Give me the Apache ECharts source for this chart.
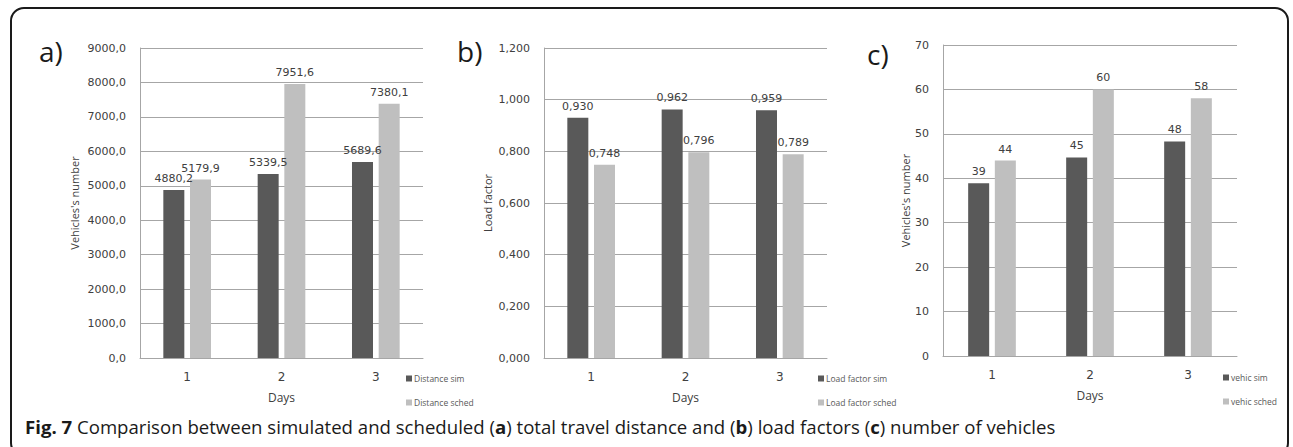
<!DOCTYPE html>
<html>
<head>
<meta charset="utf-8">
<script src="https://cdn.jsdelivr.net/npm/echarts@6/dist/echarts.min.js"></script>
<style>
  html, body { margin: 0; padding: 0; background: #fff; width: 1293px; height: 447px; overflow: hidden; }
  #frame { position: absolute; left: 10px; top: 7px; width: 1279px; height: 450px; border: 2px solid #1a1a1a; border-radius: 14px; box-sizing: border-box; }
  #chart { position: absolute; left: 0; top: 0; width: 1293px; height: 447px; }
  #caption { position: absolute; left: 25px; top: 414px; font-family: "Open Sans", sans-serif; font-size: 18.6px; line-height: 25px; color: #1a1a1a; white-space: nowrap; }
  #caption b { font-weight: 700; }
</style>
</head>
<body>
<div id="frame"></div>
<div id="chart"></div>
<div id="caption"><b>Fig. 7</b> Comparison between simulated and scheduled (<b>a</b>) total travel distance and (<b>b</b>) load factors (<b>c</b>) number of vehicles</div>
<script>
// ---- data ----
const days = ['1', '2', '3'];

const distanceSim = [4880.2, 5339.5, 5689.6];
const distanceSched = [5179.9, 7951.6, 7380.1];

const loadSim = [0.930, 0.962, 0.959];
const loadSched = [0.748, 0.796, 0.789];

const vehicSim = [38.9, 44.7, 48.3];
const vehicSched = [44, 60, 58];

const panelLetters = ['a)', 'b)', 'c)'];
const yNames = ["Vehicles's number", 'Load factor', "Vehicles's number"];
const xName = 'Days';
const legendNames = [
  ['Distance sim', 'Distance sched'],
  ['Load factor sim', 'Load factor sched'],
  ['vehic sim', 'vehic sched']
];

// ---- styles ----
const DARK = '#595959';
const LIGHT = '#bfbfbf';
const GRIDC = '#a6a6a6';
const TXT = '#404040';
const NUMFONT = 'DejaVu Sans';
const NAMEFONT = 'Open Sans';

const fmtA = v => v.toFixed(1).replace('.', ',');
const fmtB = v => v.toFixed(3).replace('.', ',');
const fmtC = v => String(Math.round(v));

const grids = [
  { left: 140, top: 48, width: 283, height: 310 },
  { left: 544, top: 48, width: 283, height: 310 },
  { left: 943, top: 45, width: 294, height: 311 }
];
const yCfg = [
  { min: 0, max: 9000, interval: 1000, fmt: fmtA, nameGap: 60 },
  { min: 0, max: 1.2, interval: 0.2, fmt: fmtB, nameGap: 51 },
  { min: 0, max: 70, interval: 10, fmt: fmtC, nameGap: 31 }
];
const seriesData = [
  [distanceSim, distanceSched],
  [loadSim, loadSched],
  [vehicSim, vehicSched]
];
const legendPos = [
  { left: 401, top: 369 },
  { left: 813, top: 369 },
  { left: 1218, top: 368 }
];
const letterPos = [[39, 37], [457, 37], [867, 40]];

const option = {
  animation: false,
  grid: grids.map(g => Object.assign({ containLabel: false }, g)),
  xAxis: grids.map((g, i) => ({
    type: 'category', gridIndex: i, data: days,
    name: xName, nameLocation: 'middle', nameGap: 33,
    nameTextStyle: { fontFamily: NAMEFONT, fontSize: 12, color: TXT },
    axisLine: { lineStyle: { color: GRIDC, width: 1 } },
    axisTick: { show: false },
    axisLabel: { fontFamily: NUMFONT, fontSize: 12, color: TXT, margin: 13 }
  })),
  yAxis: yCfg.map((c, i) => ({
    type: 'value', gridIndex: i, min: c.min, max: c.max, interval: c.interval,
    name: yNames[i], nameLocation: 'middle', nameGap: c.nameGap,
    nameTextStyle: { fontFamily: NAMEFONT, fontSize: 11, color: TXT },
    axisLine: { show: true, lineStyle: { color: GRIDC, width: 1 } },
    axisTick: { show: false },
    splitLine: { lineStyle: { color: GRIDC, width: 1 } },
    axisLabel: { fontFamily: NUMFONT, fontSize: 11, color: TXT, margin: 14, formatter: c.fmt }
  })),
  legend: legendPos.map((p, i) => ({
    orient: 'vertical', left: p.left, top: p.top,
    itemWidth: 6, itemHeight: 6, itemGap: 15,
    icon: 'rect',
    data: legendNames[i],
    textStyle: { fontFamily: NAMEFONT, fontSize: 8.5, color: '#595959', padding: [0, 0, 0, -3] }
  })),
  series: [],
  graphic: panelLetters.map((t, i) => ({
    type: 'text', left: letterPos[i][0], top: letterPos[i][1],
    style: { text: t, font: '28px "Open Sans"', fill: '#1a1a1a' }
  }))
};

seriesData.forEach((pair, i) => {
  const fmt = yCfg[i].fmt;
  pair.forEach((vals, j) => {
    option.series.push({
      type: 'bar', name: legendNames[i][j],
      xAxisIndex: i, yAxisIndex: i,
      data: vals,
      barWidth: 21, barGap: '27%',
      itemStyle: { color: j === 0 ? DARK : LIGHT },
      label: {
        show: true, position: 'top', distance: 6,
        fontFamily: NUMFONT, fontSize: 11, color: TXT,
        formatter: p => fmt(p.value)
      }
    });
  });
});

const chart = echarts.init(document.getElementById('chart'), null, { renderer: 'svg' });
chart.setOption(option);
</script>
</body>
</html>
